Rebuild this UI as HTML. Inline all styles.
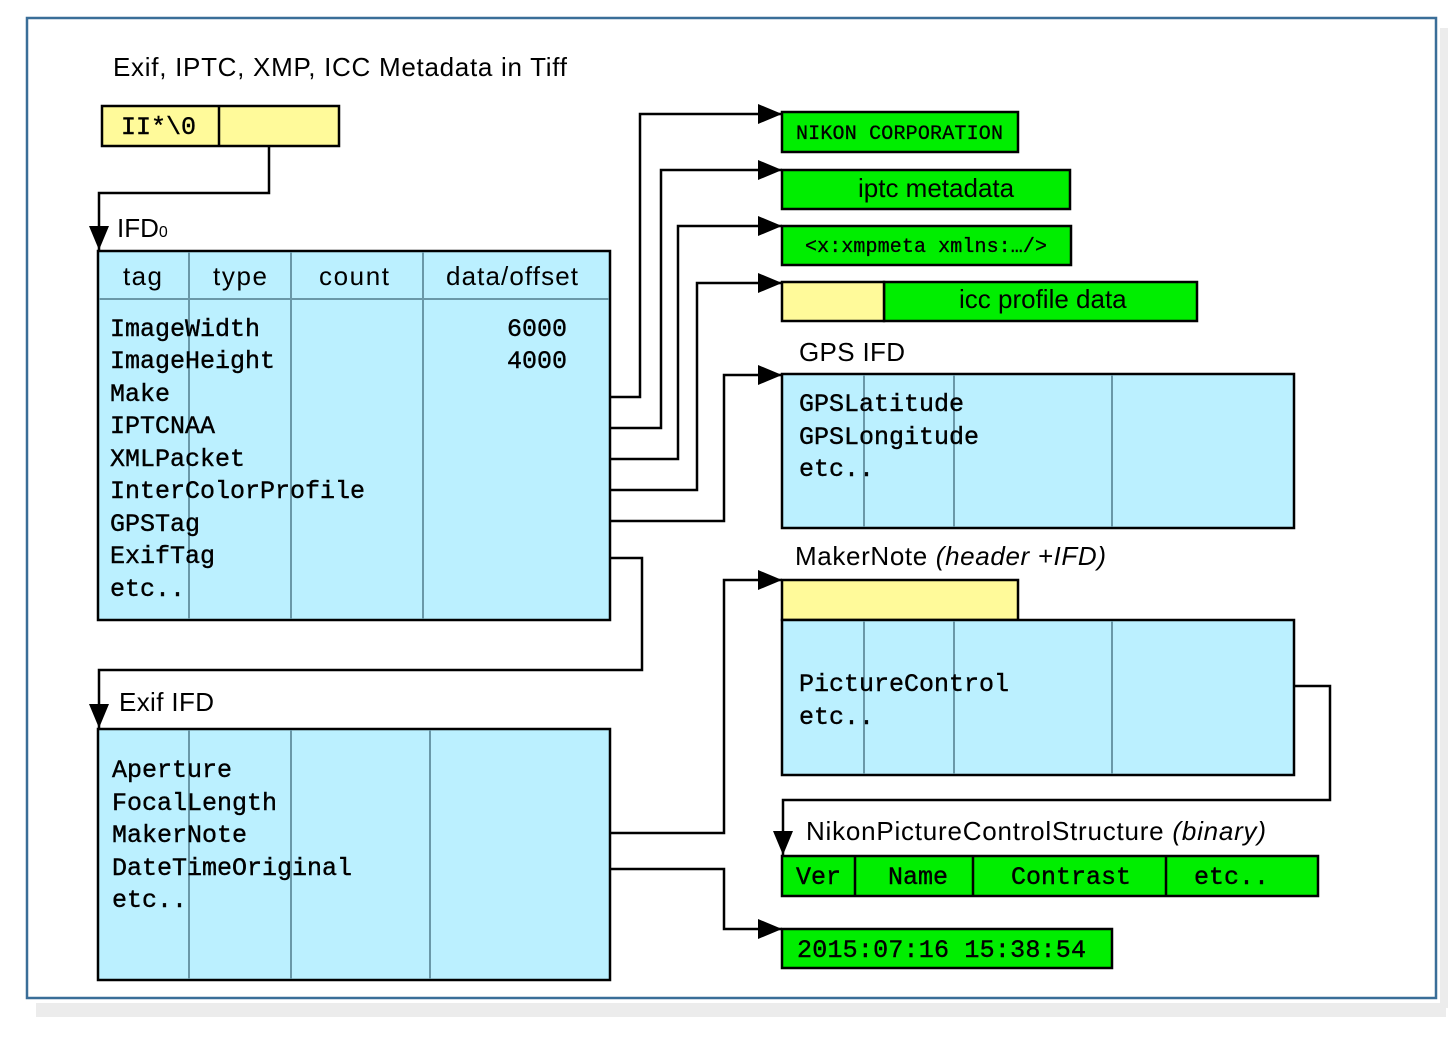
<!DOCTYPE html>
<html><head><meta charset="utf-8"><style>
body{margin:0;background:#fff}
svg{display:block}
.s{font-family:"Liberation Sans",sans-serif;font-size:26px;fill:#000}
.m{font-family:"Liberation Mono",monospace;font-size:25px;fill:#000;stroke:#000;stroke-width:0.4}
.ms{font-family:"Liberation Mono",monospace;font-size:20px;fill:#000;stroke:#000;stroke-width:0.3}
</style></head><body>
<svg width="1456" height="1055" viewBox="0 0 1456 1055" xmlns="http://www.w3.org/2000/svg">
<defs><marker id="a" viewBox="0 0 24 20" refX="24" refY="10" markerWidth="24" markerHeight="20" markerUnits="userSpaceOnUse" orient="auto"><path d="M0,0L24,10L0,20z" fill="#000"/></marker></defs>
<rect x="36" y="1003" width="1410" height="14" fill="#ececec"/>
<rect x="1440" y="28" width="8" height="980" fill="#ececec"/>
<rect x="27" y="18" width="1409" height="980" fill="#fff" stroke="#3a6e98" stroke-width="2.5"/>
<text class="s" x="113" y="76" textLength="454">Exif, IPTC, XMP, ICC Metadata in Tiff</text>
<rect x="102" y="106" width="237" height="40" fill="#fffa9a" stroke="#000" stroke-width="2.5"/>
<line x1="219" y1="106" x2="219" y2="146" stroke="#000" stroke-width="2.5"/>
<text class="m" x="121" y="134">II*\0</text>
<g fill="none" stroke="#000" stroke-width="2.5">
<polyline points="269,146 269,193 99,193 99,250" marker-end="url(#a)"/>
<polyline points="610,397 640,397 640,114 782,114" marker-end="url(#a)"/>
<polyline points="610,428 661,428 661,170 782,170" marker-end="url(#a)"/>
<polyline points="610,459 678,459 678,226 782,226" marker-end="url(#a)"/>
<polyline points="610,490 697,490 697,283 782,283" marker-end="url(#a)"/>
<polyline points="610,521 724,521 724,375 782,375" marker-end="url(#a)"/>
<polyline points="610,558 642,558 642,670 99,670 99,728" marker-end="url(#a)"/>
<polyline points="610,833 724,833 724,580 782,580" marker-end="url(#a)"/>
<polyline points="1294,686 1330,686 1330,800 783,800 783,855" marker-end="url(#a)"/>
<polyline points="610,869 724,869 724,929 782,929" marker-end="url(#a)"/>
</g>
<text class="s" x="117" y="237">IFD<tspan font-size="16">0</tspan></text>
<rect x="98" y="251" width="512" height="369" fill="#bbf0ff" stroke="#000" stroke-width="2.5"/>
<g stroke="#6a98a8" stroke-width="2"><line x1="189" y1="252" x2="189" y2="619"/><line x1="291" y1="252" x2="291" y2="619"/><line x1="423" y1="252" x2="423" y2="619"/><line x1="99" y1="299" x2="609" y2="299"/></g>
<text class="s" x="123" y="285" textLength="39">tag</text><text class="s" x="213" y="285" textLength="54">type</text><text class="s" x="319" y="285" textLength="70">count</text><text class="s" x="446" y="285" textLength="132">data/offset</text>
<text class="m" x="110" y="336">ImageWidth</text><text class="m" x="110" y="368">ImageHeight</text><text class="m" x="110" y="401">Make</text><text class="m" x="110" y="433">IPTCNAA</text><text class="m" x="110" y="466">XMLPacket</text><text class="m" x="110" y="498">InterColorProfile</text><text class="m" x="110" y="531">GPSTag</text><text class="m" x="110" y="563">ExifTag</text><text class="m" x="110" y="596">etc..</text><text class="m" x="507" y="336">6000</text><text class="m" x="507" y="368">4000</text>
<text class="s" x="119" y="711" textLength="95">Exif IFD</text>
<rect x="98" y="729" width="512" height="251" fill="#bbf0ff" stroke="#000" stroke-width="2.5"/>
<g stroke="#6a98a8" stroke-width="2"><line x1="189" y1="730" x2="189" y2="979"/><line x1="291" y1="730" x2="291" y2="979"/><line x1="430" y1="730" x2="430" y2="979"/></g>
<text class="m" x="112" y="777">Aperture</text><text class="m" x="112" y="810">FocalLength</text><text class="m" x="112" y="842">MakerNote</text><text class="m" x="112" y="875">DateTimeOriginal</text><text class="m" x="112" y="907">etc..</text>
<g stroke="#000" stroke-width="2.5" fill="#00ee00">
<rect x="782" y="112" width="236" height="40"/>
<rect x="782" y="170" width="288" height="39"/>
<rect x="782" y="226" width="289" height="39"/>
<rect x="884" y="282" width="313" height="39"/>
<rect x="782" y="282" width="102" height="39" fill="#fffa9a"/>
<rect x="782" y="856" width="536" height="40"/>
<rect x="782" y="929" width="330" height="39"/>
<line x1="855" y1="856" x2="855" y2="896"/><line x1="973" y1="856" x2="973" y2="896"/><line x1="1166" y1="856" x2="1166" y2="896"/>
</g>
<text class="ms" x="796" y="139" textLength="207">NIKON CORPORATION</text>
<text class="s" x="858" y="197" font-size="19.5">iptc metadata</text>
<text class="ms" x="805" y="252" textLength="242">&lt;x:xmpmeta xmlns:…/&gt;</text>
<text class="s" x="959" y="308" font-size="19.5">icc profile data</text>
<text class="m" x="796" y="884">Ver</text><text class="m" x="888" y="884">Name</text><text class="m" x="1011" y="884">Contrast</text><text class="m" x="1194" y="884">etc..</text>
<text class="m" x="797" y="957" textLength="289">2015:07:16 15:38:54</text>
<text class="s" x="799" y="361" textLength="106">GPS IFD</text>
<rect x="782" y="374" width="512" height="154" fill="#bbf0ff" stroke="#000" stroke-width="2.5"/>
<g stroke="#6a98a8" stroke-width="2"><line x1="864" y1="375" x2="864" y2="527"/><line x1="954" y1="375" x2="954" y2="527"/><line x1="1112" y1="375" x2="1112" y2="527"/></g>
<text class="m" x="799" y="411">GPSLatitude</text><text class="m" x="799" y="444">GPSLongitude</text><text class="m" x="799" y="476">etc..</text>
<text class="s" x="795" y="565" textLength="311">MakerNote <tspan font-style="italic">(header +IFD)</tspan></text>
<rect x="782" y="580" width="236" height="40" fill="#fffa9a" stroke="#000" stroke-width="2.5"/>
<rect x="782" y="620" width="512" height="155" fill="#bbf0ff" stroke="#000" stroke-width="2.5"/>
<g stroke="#6a98a8" stroke-width="2"><line x1="864" y1="621" x2="864" y2="774"/><line x1="954" y1="621" x2="954" y2="774"/><line x1="1112" y1="621" x2="1112" y2="774"/></g>
<text class="m" x="799" y="691">PictureControl</text><text class="m" x="799" y="724">etc..</text>
<text class="s" x="806" y="840" textLength="460">NikonPictureControlStructure <tspan font-style="italic">(binary)</tspan></text>
</svg>
</body></html>
